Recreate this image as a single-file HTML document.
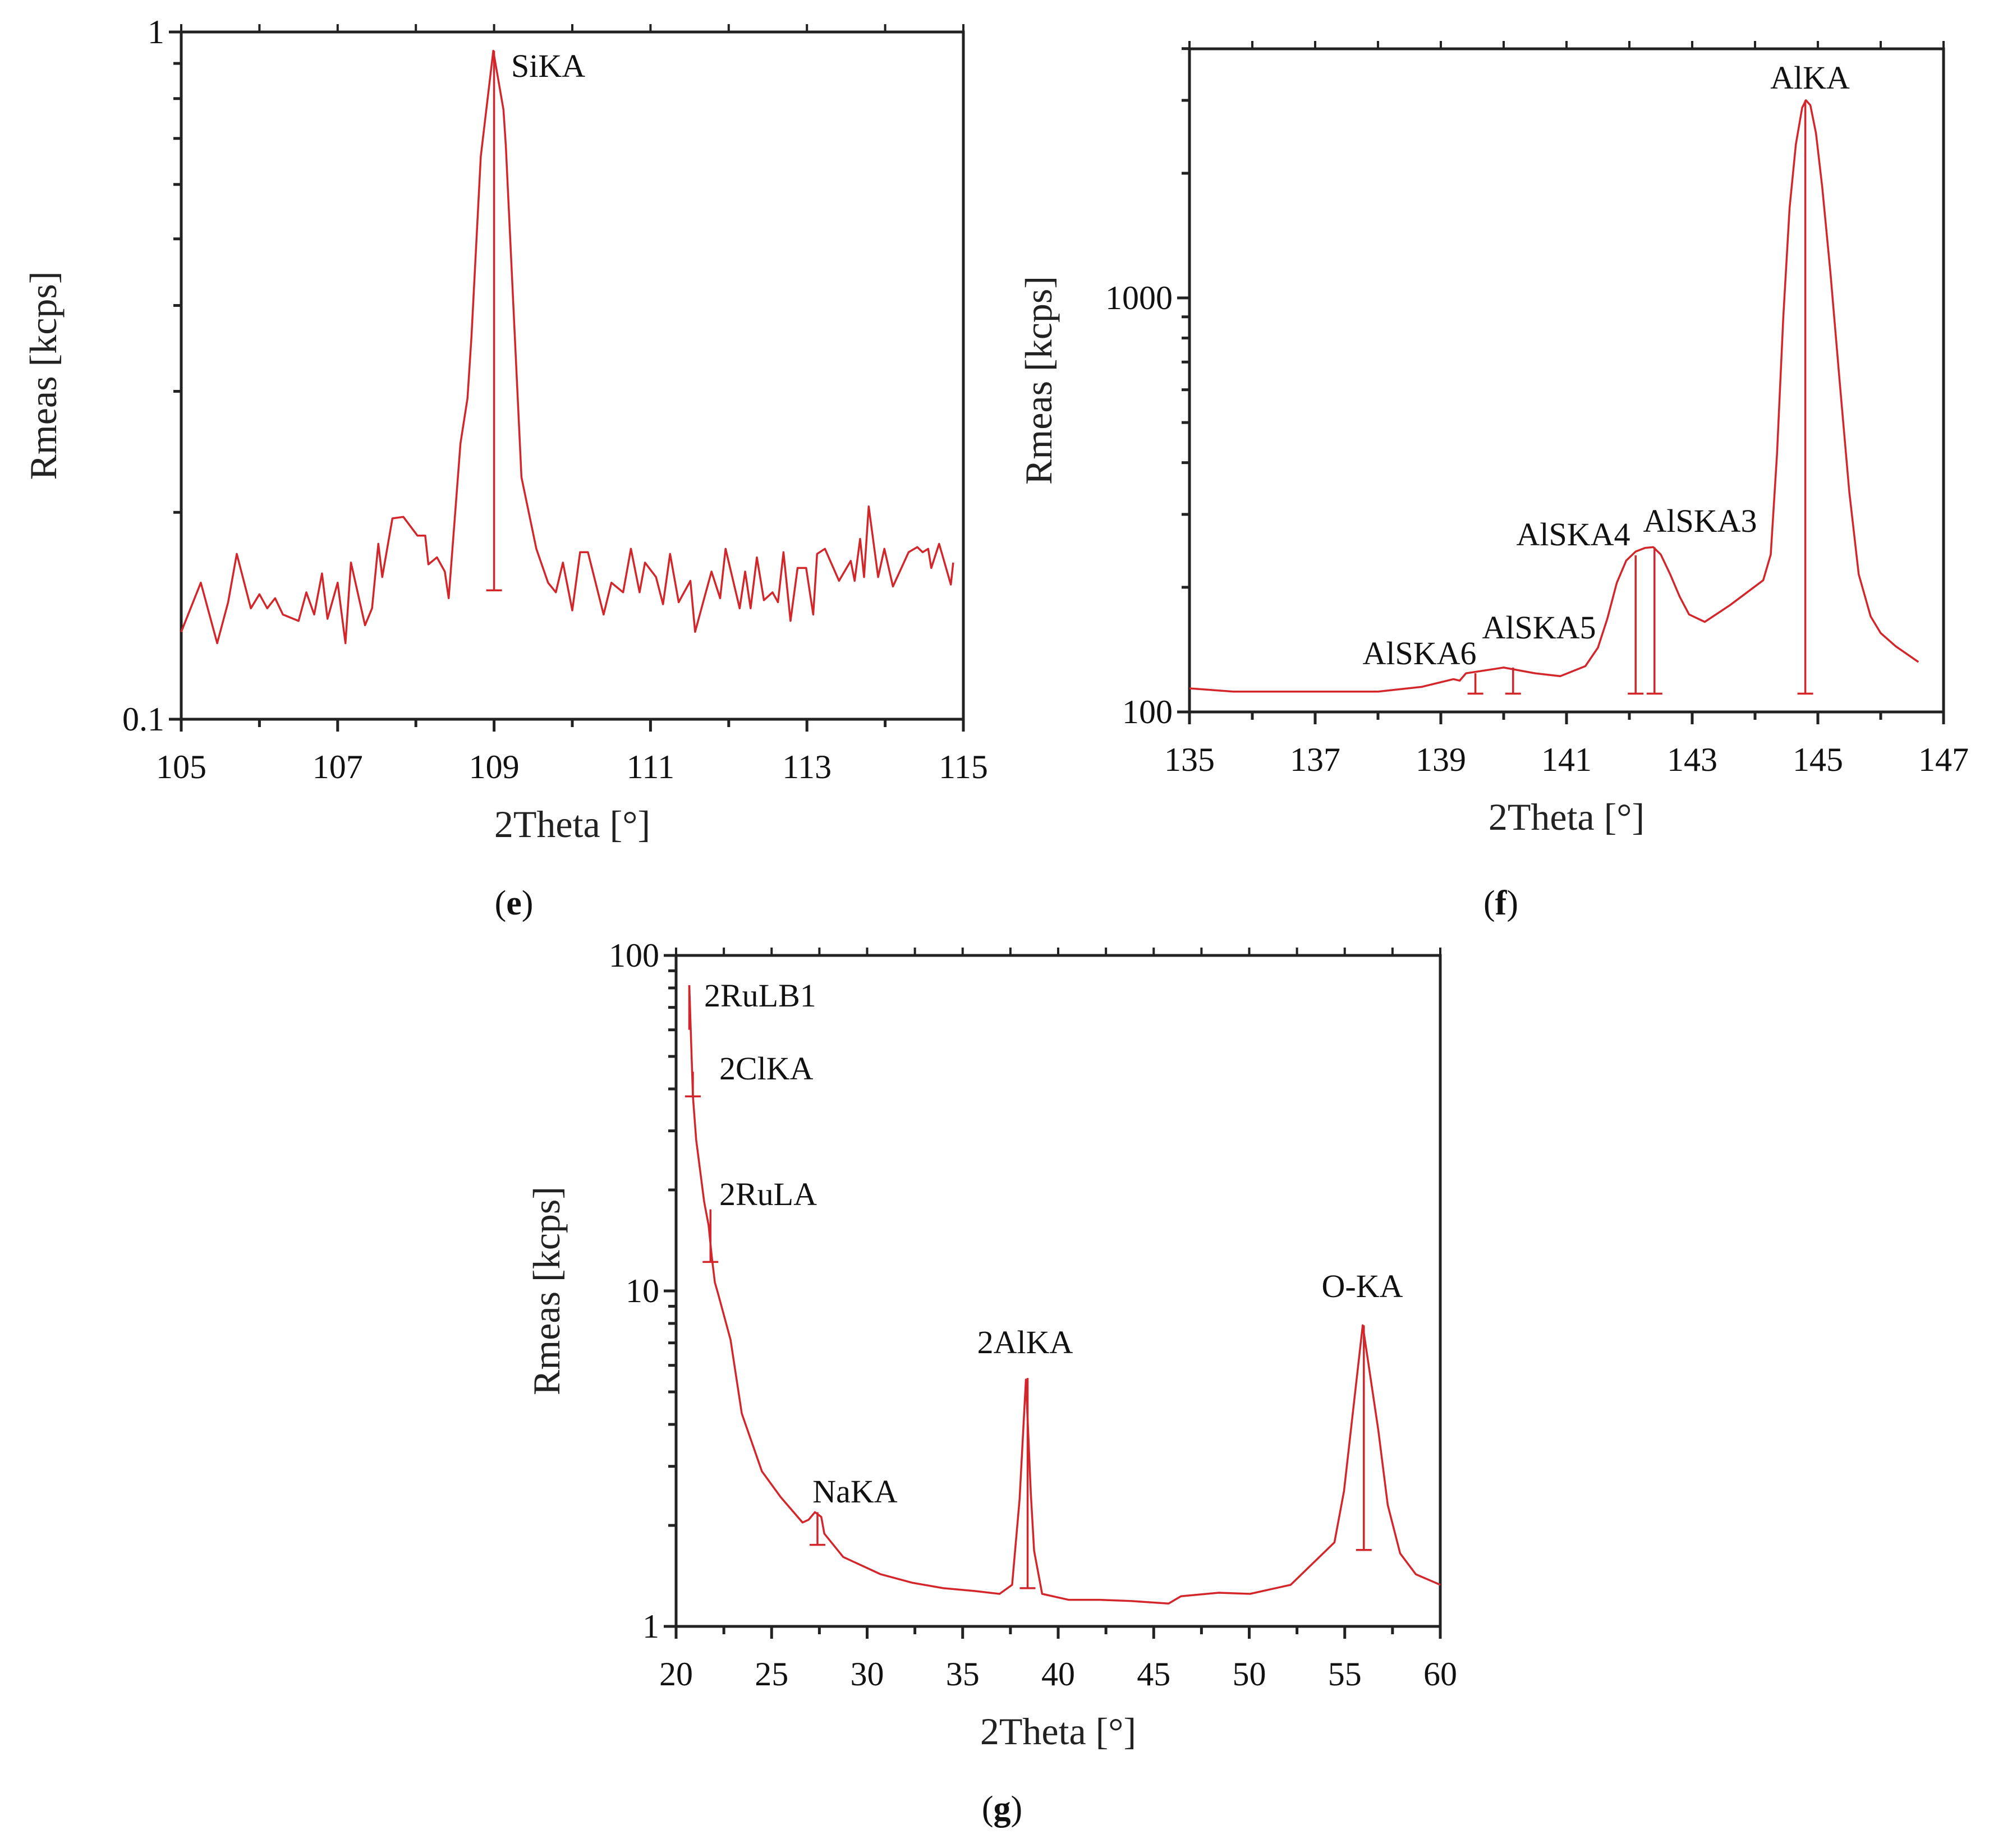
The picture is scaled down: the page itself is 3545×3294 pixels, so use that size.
<!DOCTYPE html>
<html><head><meta charset="utf-8">
<style>
html,body{margin:0;padding:0;background:#fff;}
svg{display:block;font-family:"Liberation Serif",serif;}
</style></head>
<body>
<svg id="fig" width="3545" height="3294" viewBox="0 0 3545 3294" xmlns="http://www.w3.org/2000/svg"></svg>
<script>
// ---------- Panel (e) data ----------
const eX = [105.0,105.25,105.46,105.6,105.71,105.89,106.0,106.1,106.2,106.3,106.5,106.6,106.7,106.8,106.87,107.0,107.1,107.17,107.35,107.44,107.52,107.57,107.7,107.84,108.02,108.12,108.16,108.27,108.37,108.42,108.57,108.66,108.71,108.83,108.99,109.12,109.15,109.35,109.54,109.69,109.79,109.88,110.0,110.1,110.2,110.4,110.5,110.65,110.75,110.86,110.93,111.07,111.16,111.25,111.36,111.51,111.57,111.68,111.78,111.89,111.96,112.14,112.21,112.28,112.36,112.45,112.56,112.63,112.7,112.79,112.88,112.99,113.08,113.13,113.23,113.41,113.56,113.61,113.68,113.73,113.79,113.91,113.99,114.1,114.3,114.41,114.48,114.55,114.59,114.69,114.84,114.87];
const eY = [0.134,0.158,0.129,0.148,0.174,0.145,0.152,0.145,0.150,0.142,0.139,0.153,0.142,0.163,0.140,0.158,0.129,0.169,0.137,0.145,0.180,0.161,0.196,0.197,0.185,0.185,0.168,0.172,0.164,0.150,0.252,0.293,0.359,0.659,0.939,0.771,0.684,0.225,0.177,0.158,0.153,0.169,0.144,0.175,0.175,0.142,0.158,0.153,0.177,0.153,0.169,0.161,0.147,0.174,0.148,0.159,0.134,0.149,0.164,0.150,0.177,0.145,0.164,0.145,0.172,0.149,0.153,0.148,0.175,0.139,0.166,0.166,0.142,0.174,0.177,0.159,0.170,0.159,0.183,0.161,0.204,0.161,0.177,0.156,0.175,0.178,0.175,0.177,0.166,0.180,0.157,0.169];
const eMarkX = [109.0];
const eMarkTop = [0.939];
const eMarkBot = [0.154];
const eMarkCap = [1];
const eXTicks = [105,107,109,111,113,115];

// ---------- Panel (f) data ----------
const fX = [135,135.7,138,138.7,139.2,139.3,139.4,140,140.5,140.9,141.3,141.5,141.65,141.8,141.95,142.1,142.25,142.38,142.5,142.65,142.8,142.95,143.2,143.6,144.13,144.25,144.35,144.45,144.55,144.65,144.75,144.81,144.88,144.97,145.07,145.2,145.35,145.5,145.65,145.84,146.0,146.24,146.6];
const fY = [114,112,112,115,120,119,124,128,124,122,129,143,168,205,232,244,249,250,240,215,190,172,165,181,208,240,420,900,1650,2350,2880,3002,2920,2500,1850,1150,620,340,215,170,155,144,132];
const fMarkX = [139.55,140.15,142.1,142.4,144.8];
const fMarkTop = [124,128,239,250,3002];
const fMarkBot = [110.7,110.7,110.7,110.7,110.7];
const fMarkCap = [1,1,1,1,1];
const fXTicks = [135,137,139,141,143,145,147];

// ---------- Panel (g) data ----------
const gX = [20.69,20.88,21.05,21.47,21.7,21.87,22.03,22.2,22.85,23.44,24.49,25.47,26.62,26.94,27.27,27.6,27.76,28.75,30.71,32.35,33.99,35.62,36.93,37.59,37.98,38.31,38.57,38.74,39.16,40.54,42.17,43.81,45.78,46.43,48.4,50.04,52.17,54.46,54.96,55.94,56.76,57.25,57.9,58.72,60];
const gY = [81.5,38,28.2,18.4,15.7,12.6,10.6,9.8,7.16,4.31,2.9,2.43,2.04,2.08,2.19,2.12,1.89,1.61,1.43,1.35,1.30,1.275,1.25,1.33,2.39,5.44,2.48,1.68,1.25,1.20,1.20,1.19,1.17,1.23,1.26,1.25,1.33,1.78,2.53,7.9,3.83,2.30,1.65,1.43,1.33];
const gMarkX = [20.69,20.88,21.8,27.4,38.4,56.0];
const gMarkTop = [81.5,45,17.5,2.19,5.5,7.9];
const gMarkBot = [60,38,12.2,1.75,1.30,1.69];
const gMarkCap = [0,1,1,1,1,1];
const gXTicks = [20,25,30,35,40,45,50,55,60];

const NS = "http://www.w3.org/2000/svg";
const svg = document.getElementById('fig');
function mk(tag, attrs, parent){
  const el = document.createElementNS(NS, tag);
  for (const k in attrs) el.setAttribute(k, attrs[k]);
  (parent||svg).appendChild(el);
  return el;
}
const RED = "#d3262b";

function panel(cfg){
  const g = mk('g', {});
  
  
  const sx = v => cfg.L + (v - cfg.x0) / (cfg.x1 - cfg.x0) * (cfg.R - cfg.L);
  const sy = v => cfg.B - (Math.log10(v) - Math.log10(cfg.y0)) / (Math.log10(cfg.y1) - Math.log10(cfg.y0)) * (cfg.B - cfg.T);
  const fr = mk('rect', {x:cfg.L, y:cfg.T, width:cfg.R-cfg.L, height:cfg.B-cfg.T, fill:'none', stroke:'#222', 'stroke-width':5}, g);
  
  
  for (let v = cfg.x0; v <= cfg.x1 + 1e-9; v += cfg.xMinor){
    const x = sx(v);
    const major = cfg.xTicks.some(t => Math.abs(t - v) < 1e-6);
    mk('line', {x1:x, x2:x, y1:cfg.B, y2:cfg.B + (major?22:14), stroke:'#222', 'stroke-width':5}, g);
    mk('line', {x1:x, x2:x, y1:cfg.T, y2:cfg.T - 14, stroke:'#222', 'stroke-width':4}, g);
  }
  cfg.xTicks.forEach(v => {
    const t = mk('text', {x:sx(v), y:cfg.B + 105, 'font-size':60, 'text-anchor':'middle', fill:'#111'}, g);
    t.textContent = String(v);
    
    
  });
  const d0 = Math.floor(Math.log10(cfg.y0)), d1 = Math.ceil(Math.log10(cfg.y1));
  for (let d = d0; d <= d1; d++){
    for (let m = 1; m <= 9; m++){
      const v = m * Math.pow(10, d);
      if (v < cfg.y0*0.999 || v > cfg.y1*1.001) continue;
      const y = sy(v);
      mk('line', {x1:cfg.L - (m===1?22:14), x2:cfg.L, y1:y, y2:y, stroke:'#222', 'stroke-width':5}, g);
    }
  }
  cfg.yLabels.forEach((v, i) => {
    const t = mk('text', {x:cfg.L - 30, y:sy(v) + 20, 'font-size':60, 'text-anchor':'end', fill:'#111'}, g);
    t.textContent = cfg.yLabelText[i];
    
    
  });
  const xt = mk('text', {x:(cfg.L+cfg.R)/2, y:cfg.B + 210, 'font-size':68, 'text-anchor':'middle', fill:'#222'}, g);
  xt.textContent = '2Theta [°]';
  
  
  const yx = cfg.yTitleX, yy = (cfg.T + cfg.B)/2;
  const yt = mk('text', {x:yx, y:yy, 'font-size':68, 'text-anchor':'middle', fill:'#222', transform:`rotate(-90 ${yx} ${yy})`}, g);
  yt.textContent = 'Rmeas [kcps]';
  
  
  const pts = cfg.xs.map((x, i) => sx(x).toFixed(1) + ',' + sy(cfg.ys[i]).toFixed(1)).join(' ');
  const pl = mk('polyline', {points:pts, fill:'none', stroke:RED, 'stroke-width':3.5, 'stroke-linejoin':'round'}, g);
  
  
  cfg.mx.forEach((mxv, i) => {
    const x = sx(mxv);
    const ln = mk('line', {x1:x, x2:x, y1:sy(cfg.mt[i]), y2:sy(cfg.mb[i]), stroke:RED, 'stroke-width':3.5}, g);
    
    
    if (cfg.mc[i]) mk('line', {x1:x - cfg.cap, x2:x + cfg.cap, y1:sy(cfg.mb[i]), y2:sy(cfg.mb[i]), stroke:RED, 'stroke-width':3.5}, g);
  });
  cfg.labels.forEach(l => {
    const t = mk('text', {x:l[1], y:l[2], 'font-size':58, 'text-anchor':l[3]||'middle', fill:'#111'}, g);
    t.textContent = l[0];
    
    
  });
  const c = mk('text', {x:cfg.cap_x, y:1630, 'font-size':62, 'text-anchor':'middle', fill:'#111'}, g);
  if (cfg.capY) c.setAttribute('y', cfg.capY);
  c.innerHTML = '(<tspan font-weight="bold">' + cfg.letter + '</tspan>)';
  
  
}

panel({name:'panel-e', L:323, R:1717, T:57, B:1282, x0:105, x1:115, y0:0.1, y1:1,
  xMinor:1, xTicks:eXTicks, yLabels:[0.1,1], yLabelText:['0.1','1'], yTitleX:100,
  xs:eX, ys:eY, mx:eMarkX, mt:eMarkTop, mb:eMarkBot, mc:eMarkCap, cap:14,
  labels:[['SiKA',911,137,'start']], cap_x:916, letter:'e'});

panel({name:'panel-f', L:2120, R:3464, T:87, B:1269, x0:135, x1:147, y0:100, y1:100*Math.pow(10,(1269-87)/738),
  xMinor:1, xTicks:fXTicks, yLabels:[100,1000], yLabelText:['100','1000'], yTitleX:1874,
  xs:fX, ys:fY, mx:fMarkX, mt:fMarkTop, mb:fMarkBot, mc:fMarkCap, cap:14,
  labels:[['AlKA',3226,158],['AlSKA3',3030,948],['AlSKA4',2804,972],['AlSKA5',2743,1138],['AlSKA6',2530,1184]],
  cap_x:2675, letter:'f'});

panel({name:'panel-g', L:1205, R:2567, T:1703, B:2899, x0:20, x1:60, y0:1, y1:100,
  xMinor:2.5, xTicks:gXTicks, yLabels:[1,10,100], yLabelText:['1','10','100'], yTitleX:997,
  xs:gX, ys:gY, mx:gMarkX, mt:gMarkTop, mb:gMarkBot, mc:gMarkCap, cap:14,
  labels:[['2RuLB1',1255,1794,'start'],['2ClKA',1282,1924,'start'],['2RuLA',1282,2148,'start'],['NaKA',1524,2678],['2AlKA',1827,2412],['O-KA',2428,2312]],
  cap_x:1786, capY:3244, letter:'g'});
</script>
</body></html>
